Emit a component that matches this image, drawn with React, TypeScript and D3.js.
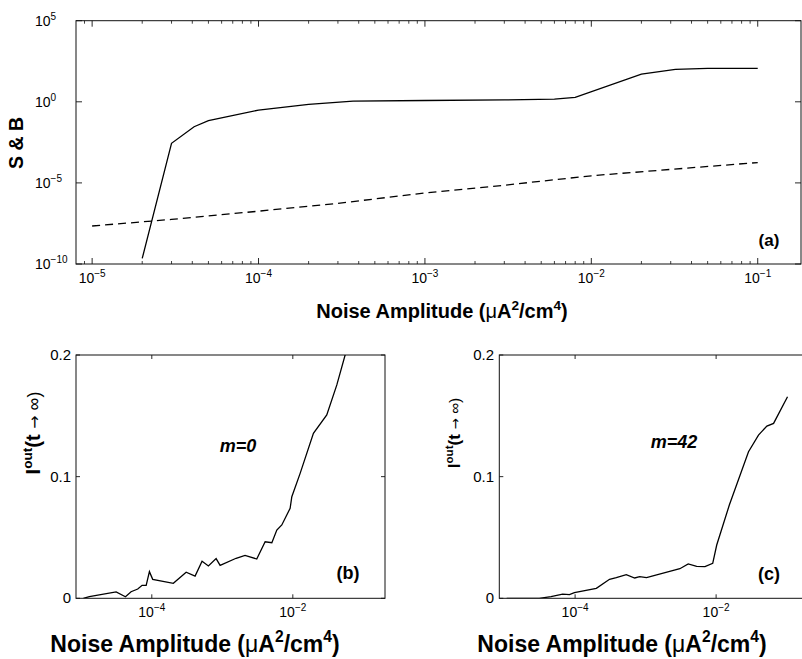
import React from 'react';
import * as d3 from 'd3';

const W = 802;
const H = 659;
const FONT = 'Liberation Sans, Arial, Helvetica, sans-serif';

// ---------- Panel (a) data ----------
const sNoise = [2e-5, 3e-5, 4.1e-5, 5e-5, 1e-4, 2e-4, 3.7e-4, 1e-3, 3e-3, 6e-3, 8e-3, 2e-2, 3.2e-2, 5e-2, 1e-1];
const sValues = [2.2e-10, 2.75e-3, 0.029, 0.068, 0.31, 0.69, 1.1, 1.2, 1.3, 1.45, 1.85, 51, 100, 115, 115];
const bNoise = [1e-5, 3e-5, 1e-4, 3e-4, 1e-3, 3e-3, 1e-2, 3e-2, 1e-1];
const bValues = [2.2e-8, 5.6e-8, 1.8e-7, 5.5e-7, 2.4e-6, 7.2e-6, 2.75e-5, 6.8e-5, 1.8e-4];

// ---------- Panel (b) data (m=0) ----------
const m0Noise = [1.07e-5, 1.3e-5, 3.12e-5, 4.23e-5, 5.08e-5, 6.32e-5, 7.28e-5, 8.32e-5, 9.25e-5, 1.03e-4,
  2.02e-4, 3.07e-4, 4.11e-4, 5.16e-4, 6.35e-4, 8.17e-4, 9.31e-4, 1.57e-3, 2.1e-3, 3.08e-3, 4.05e-3,
  5.04e-3, 5.93e-3, 6.98e-3, 9.16e-3, 9.68e-3, 1.27e-2, 1.96e-2, 3.03e-2, 4.21e-2, 5.52e-2, 6.31e-2];
const m0Iout = [0, 0.0013, 0.0052, 0.0013, 0.0054, 0.0076, 0.0107, 0.0107, 0.0219, 0.0156,
  0.0123, 0.0214, 0.0183, 0.0304, 0.0266, 0.0326, 0.0271, 0.0329, 0.0353, 0.0323, 0.0465,
  0.0457, 0.0561, 0.0603, 0.074, 0.0835, 0.1027, 0.1356, 0.1507, 0.1754, 0.2, 0.212];

// ---------- Panel (c) data (m=42) ----------
const m42Noise = [1.07e-5, 3.1e-5, 4.55e-5, 6.65e-5, 8.32e-5, 9.77e-5, 2.0e-4, 3.08e-4, 3.84e-4, 5.32e-4,
  7.0e-4, 8.24e-4, 1.03e-3, 3.06e-3, 4.02e-3, 5.3e-3, 6.95e-3, 8.95e-3, 1.02e-2, 1.54e-2, 2.88e-2,
  3.99e-2, 5.25e-2, 6.53e-2, 1.03e-1];
const m42Iout = [0, 0, 0.0013, 0.0035, 0.003, 0.0046, 0.0082, 0.0156, 0.017, 0.0194,
  0.0167, 0.0178, 0.017, 0.0243, 0.0282, 0.0263, 0.026, 0.0288, 0.0438, 0.0767, 0.1205,
  0.1342, 0.1416, 0.1438, 0.1657];

// ---------- Tick definitions ----------
const topXTicks = [1e-5, 1e-4, 1e-3, 1e-2, 1e-1];
const topXExp = ['\u22125', '\u22124', '\u22123', '\u22122', '\u22121'];
const topYTicks = [1e-10, 1e-5, 1, 1e5];
const topYExp = ['\u221210', '\u22125', '0', '5'];
const botXTicks = [1e-4, 1e-2];
const botXExp = ['\u22124', '\u22122'];
const botYTicks = [0, 0.1, 0.2];
const botYLabels = ['0', '0.1', '0.2'];

const minorTicks = (domain: number[]) => {
  const out: number[] = [];
  for (let e = -7; e <= 1; e++) {
    for (let k = 2; k <= 9; k++) {
      const v = k * Math.pow(10, e);
      if (v > domain[0] && v < domain[1]) out.push(v);
    }
  }
  return out;
};

// ---------- Scales ----------
const ax = d3.scaleLog().domain([8.0e-6, 0.182]).range([76, 801]);
const ay = d3.scaleLog().domain([1e-10, 1e5]).range([264, 20.7]);

const bx = d3.scaleLog().domain([8.41e-6, 0.203]).range([76, 385]);
const by = d3.scaleLinear().domain([0, 0.2]).range([598.3, 355]);

const cx = d3.scaleLog().domain([8.41e-6, 0.203]).range([499.3, 808.3]);
const cy = d3.scaleLinear().domain([0, 0.2]).range([598.3, 355]);

const STROKE = '#111';

function XLabel({ x, y, size }: { x: number; y: number; size: number }) {
  const sup = size * 0.68;
  return (
    <text x={x} y={y} textAnchor="middle" fontFamily={FONT} fontWeight="bold" fontSize={size} fill="#000">
      Noise Amplitude (<tspan fontWeight="normal">{'\u03bc'}</tspan>A
      <tspan fontSize={sup} dy={-size * 0.42}>2</tspan>
      <tspan dy={size * 0.42}>/cm</tspan>
      <tspan fontSize={sup} dy={-size * 0.42}>4</tspan>
      <tspan dy={size * 0.42}>)</tspan>
    </text>
  );
}

function IoutLabel({ x, y, size }: { x: number; y: number; size: number }) {
  return (
    <text transform={`translate(${x},${y}) rotate(-90)`} textAnchor="middle" fontFamily={FONT} fontSize={size} fill="#000">
      <tspan fontWeight="bold">I</tspan>
      <tspan fontWeight="bold" fontSize={size * 0.68} dy={-size * 0.42}>out</tspan>
      <tspan fontWeight="bold" dy={size * 0.42}>(t </tspan>
      <tspan fontFamily="DejaVu Sans" fontSize={size * 0.8}>{'\u2192'}</tspan>
      <tspan fontSize={size * 0.9}> {'\u221e'})</tspan>
    </text>
  );
}

export default function App() {
  const sLine = d3.line<number>().x((_, i) => ax(sNoise[i])).y((d) => ay(d));
  const bLine = d3.line<number>().x((_, i) => ax(bNoise[i])).y((d) => ay(d));
  const m0Line = d3.line<number>().x((_, i) => bx(m0Noise[i])).y((d) => by(d));
  const m42Line = d3.line<number>().x((_, i) => cx(m42Noise[i])).y((d) => cy(d));

  const aMinor = minorTicks(ax.domain());

  const [ax0, ax1] = ax.range();
  const [ay0, ay1] = ay.range();
  const [bx0, bx1] = bx.range();
  const [by0, by1] = by.range();
  const [cx0, cx1] = cx.range();
  const [cy0, cy1] = cy.range();

  return (
    <svg width={W} height={H} style={{ position: 'absolute', left: 0, top: 0, background: '#fff' }}>
      <defs>
        <clipPath id="clipA"><rect x={ax0} y={ay1} width={ax1 - ax0} height={ay0 - ay1} /></clipPath>
        <clipPath id="clipB"><rect x={bx0} y={by1} width={bx1 - bx0} height={by0 - by1} /></clipPath>
        <clipPath id="clipC"><rect x={cx0} y={cy1} width={cx1 - cx0} height={cy0 - cy1} /></clipPath>
      </defs>
      <rect x={0} y={0} width={W} height={H} fill="#fff" />

      {/* ---------- Panel (a) ---------- */}
      <g>
        {aMinor.map((v, i) => (
          <g key={'am' + i} stroke={STROKE} strokeWidth={0.8}>
            <line x1={ax(v)} x2={ax(v)} y1={ay0} y2={ay0 - 3} />
            <line x1={ax(v)} x2={ax(v)} y1={ay1} y2={ay1 + 3} />
          </g>
        ))}
        {topXTicks.map((v, i) => (
          <g key={'ax' + i}>
            <line x1={ax(v)} x2={ax(v)} y1={ay0} y2={ay0 - 6} stroke={STROKE} strokeWidth={0.9} />
            <line x1={ax(v)} x2={ax(v)} y1={ay1} y2={ay1 + 6} stroke={STROKE} strokeWidth={0.9} />
            <text x={ax(v)} y={283} textAnchor="middle" fontFamily={FONT} fontSize={14} fill="#000">
              10<tspan fontSize={10} dy={-6}>{topXExp[i]}</tspan>
            </text>
          </g>
        ))}
        {topYTicks.map((v, i) => (
          <g key={'ay' + i}>
            <line x1={ax0} x2={ax0 + 6} y1={ay(v)} y2={ay(v)} stroke={STROKE} strokeWidth={0.9} />
            <line x1={ax1} x2={ax1 - 6} y1={ay(v)} y2={ay(v)} stroke={STROKE} strokeWidth={0.9} />
            <text x={35} y={ay(v) + 5} textAnchor="start" fontFamily={FONT} fontSize={14} fill="#000">
              10<tspan fontSize={10} dy={-6}>{topYExp[i]}</tspan>
            </text>
          </g>
        ))}
        <rect x={ax0} y={ay1} width={ax1 - ax0} height={ay0 - ay1} fill="none" stroke={STROKE} strokeWidth={1} />
        <g clipPath="url(#clipA)" fill="none" stroke="#000" strokeWidth={1.3}>
          <path d={sLine(sValues) || ''} />
          <path d={bLine(bValues) || ''} strokeDasharray="8,5" />
        </g>
        <text x={769} y={246} textAnchor="middle" fontFamily={FONT} fontWeight="bold" fontSize={17} fill="#000">(a)</text>
        <text transform="translate(23,143) rotate(-90)" textAnchor="middle" fontFamily={FONT} fontWeight="bold" fontSize={19.5} fill="#000">S &amp; B</text>
        <XLabel x={442} y={318} size={20} />
      </g>

      {/* ---------- Panel (b) ---------- */}
      <g>
        {botXTicks.map((v, i) => (
          <g key={'bx' + i}>
            <line x1={bx(v)} x2={bx(v)} y1={by0} y2={by0 - 4} stroke={STROKE} strokeWidth={0.9} />
            <line x1={bx(v)} x2={bx(v)} y1={by1} y2={by1 + 4} stroke={STROKE} strokeWidth={0.9} />
            <text x={bx(v)} y={617} textAnchor="middle" fontFamily={FONT} fontSize={14} fill="#000">
              10<tspan fontSize={10} dy={-6}>{botXExp[i]}</tspan>
            </text>
          </g>
        ))}
        {botYTicks.map((v, i) => (
          <g key={'by' + i}>
            <line x1={bx0} x2={bx0 + 4} y1={by(v)} y2={by(v)} stroke={STROKE} strokeWidth={0.9} />
            <line x1={bx1} x2={bx1 - 4} y1={by(v)} y2={by(v)} stroke={STROKE} strokeWidth={0.9} />
            <text x={71} y={by(v) + 5} textAnchor="end" fontFamily={FONT} fontSize={15} fill="#000">{botYLabels[i]}</text>
          </g>
        ))}
        <rect x={bx0} y={by1} width={bx1 - bx0} height={by0 - by1} fill="none" stroke={STROKE} strokeWidth={1} />
        <g clipPath="url(#clipB)" fill="none" stroke="#000" strokeWidth={1.3}>
          <path d={m0Line(m0Iout) || ''} />
        </g>
        <text x={238} y={452} textAnchor="middle" fontFamily={FONT} fontWeight="bold" fontStyle="italic" fontSize={18} fill="#000">m=0</text>
        <text x={348} y={579} textAnchor="middle" fontFamily={FONT} fontWeight="bold" fontSize={18} fill="#000">(b)</text>
        <IoutLabel x={40} y={433} size={20} />
        <XLabel x={195} y={652} size={23} />
      </g>

      {/* ---------- Panel (c) ---------- */}
      <g>
        {botXTicks.map((v, i) => (
          <g key={'cx' + i}>
            <line x1={cx(v)} x2={cx(v)} y1={cy0} y2={cy0 - 4} stroke={STROKE} strokeWidth={0.9} />
            <line x1={cx(v)} x2={cx(v)} y1={cy1} y2={cy1 + 4} stroke={STROKE} strokeWidth={0.9} />
            <text x={cx(v)} y={617} textAnchor="middle" fontFamily={FONT} fontSize={14} fill="#000">
              10<tspan fontSize={10} dy={-6}>{botXExp[i]}</tspan>
            </text>
          </g>
        ))}
        {botYTicks.map((v, i) => (
          <g key={'cy' + i}>
            <line x1={cx0} x2={cx0 + 4} y1={cy(v)} y2={cy(v)} stroke={STROKE} strokeWidth={0.9} />
            <text x={494} y={cy(v) + 5} textAnchor="end" fontFamily={FONT} fontSize={15} fill="#000">{botYLabels[i]}</text>
          </g>
        ))}
        <rect x={cx0} y={cy1} width={cx1 - cx0} height={cy0 - cy1} fill="none" stroke={STROKE} strokeWidth={1} />
        <g clipPath="url(#clipC)" fill="none" stroke="#000" strokeWidth={1.3}>
          <path d={m42Line(m42Iout) || ''} />
        </g>
        <text x={674} y={448} textAnchor="middle" fontFamily={FONT} fontWeight="bold" fontStyle="italic" fontSize={18} fill="#000">m=42</text>
        <text x={769} y={580} textAnchor="middle" fontFamily={FONT} fontWeight="bold" fontSize={18} fill="#000">(c)</text>
        <IoutLabel x={460} y={433} size={17} />
        <XLabel x={622} y={652} size={23} />
      </g>
    </svg>
  );
}
